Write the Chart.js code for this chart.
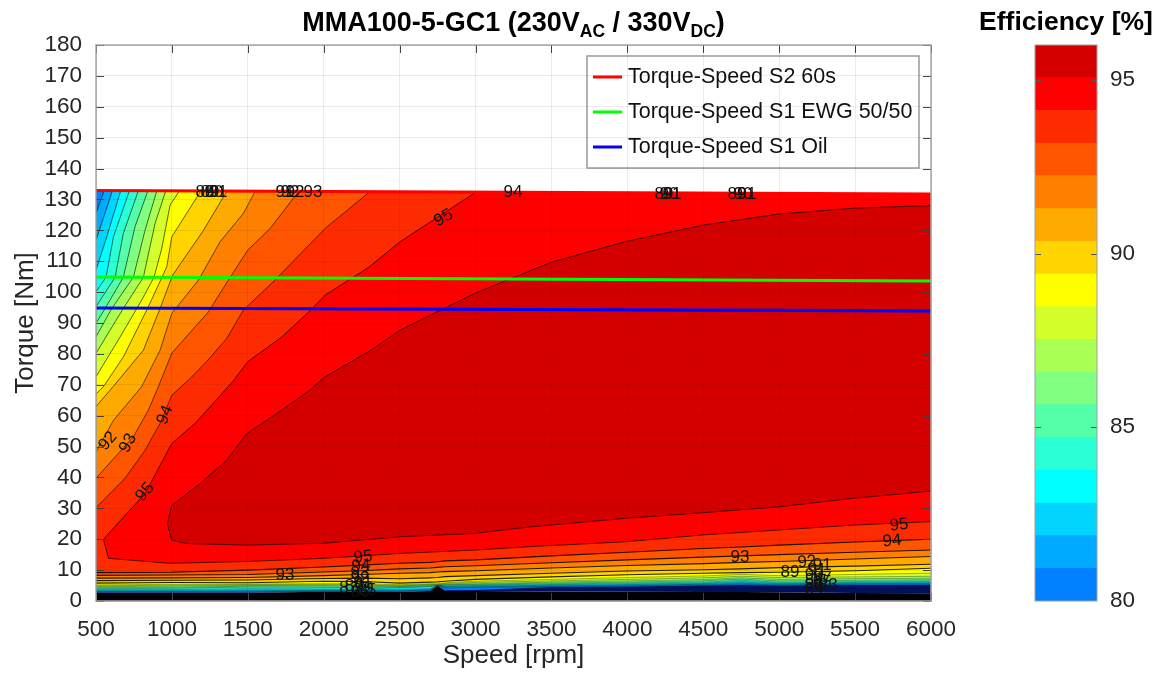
<!DOCTYPE html>
<html><head><meta charset="utf-8">
<script src="https://cdn.jsdelivr.net/npm/chart.js@4"></script>
<style>html,body{margin:0;padding:0;background:#fff;overflow:hidden}canvas{position:absolute;top:0}</style>
</head><body>
<canvas id="main" width="960" height="673" style="left:0"></canvas>
<canvas id="bar" width="203" height="673" style="left:960px"></canvas>
<script>
// ---------- data ----------
const bandColors=['#0080ff','#00aaff','#00d4ff','#00ffff','#2affd5','#55ffaa','#80ff80','#aaff55','#d4ff2b','#ffff00','#ffd400','#ffaa00','#ff8000','#ff5500','#ff2b00','#ff0000','#d40000'];
const barEdges=[80,80.94,81.88,82.82,83.76,84.71,85.65,86.59,87.53,88.47,89.41,90.35,91.29,92.24,93.18,94.12,95.06,96];
const barTicks=[80,85,90,95];
const s2Speed=[500,6000],s2Torque=[132.9,131.75];
const ewgSpeed=[500,6000],ewgTorque=[104.9,103.6];
const oilSpeed=[500,6000],oilTorque=[94.85,93.9];
const seriesNames=['Torque-Speed S2 60s','Torque-Speed S1 EWG 50/50','Torque-Speed S1 Oil'];
const seriesColors=['#ff0000','#00ff00','#0000ff'];
const topRight=[6000,131.75];
// left/upper branch of every contour (top edge first)
const upL1=[[553,132.8],[500,125.5]];
const upL2=[[608,132.8],[500,116.8]];
const upL3=[[663,132.8],[571,117.9],[500,107.1]];
const upL4=[[720,132.8],[615,117.9],[566,104.8],[500,100.1]];
const upL5=[[779,132.8],[680,119],[626,104.8],[500,95.3]];
const upL6=[[841,132.7],[757,121.2],[680,104.8],[560,94.7],[500,89.9]];
const upL7=[[900,132.7],[823,120],[746,104.8],[604,94.7],[500,85.5]];
const upL8=[[959,132.7],[889,122.2],[812,104.8],[680,94.7],[593,87.7],[500,80.2]];
const upL9=[[1049,132.7],[988,128.2],[933,114.1],[882,104.8],[801,97.4],[659,85.5],[500,72.6]];
const upL10=[[1190,132.7],[999,117.9],[966,108.2],[845,95.3],[680,79],[549,69.4],[500,67]];
const upL11=[[1361,132.6],[1208,120],[1005,105.5],[922,94.7],[812,81.2],[640,71],[500,62.9]];
const upL12=[[1548,132.6],[1471,125.5],[1317,116.3],[1175,103.9],[999,93.1],[922,81.2],[801,69.4],[615,58.5],[500,48.3]];
const upL13=[[1833,132.5],[1647,120.6],[1500,113.6],[1372,103.9],[1240,93.6],[999,80.2],[911,69.4],[845,61.8],[746,53.2],[500,39.7]];
const upL14=[[2301,132.4],[2009,120.6],[1669,103.4],[1471,94.2],[1361,85],[1229,77.5],[1109,71.5],[999,66.6],[922,57.5],[823,48.8],[691,39.7],[500,30.2]];
// lower branch of the contours, on a common speed grid
const lowSpeed=[500,1000,1500,2000,2250,2500,2700,2750,2800,3000,3500,4000,4500,4750,5000,5500,6000];
const blackTop=[2.7,2.7,2.7,3,3,3,3.2,5,3.2,3.2,3.1,3,2.9,2.9,2.8,2.6,2.5];
const navyTop=[2.8,2.8,2.8,3.1,3.1,3.1,3.3,5,3.5,3.6,4.5,4.7,5,5.2,5,5.2,5.3];
const lowL1=[3,3,3,3.2,3.2,3.3,3.5,5.05,4.2,4.4,4.7,4.9,5.2,5.4,5.2,5.4,5.5];
const lowL2=[3.2,3.2,3.3,3.4,3.4,3.5,3.7,5.1,4.5,4.6,4.9,5.1,5.4,5.7,5.4,5.6,5.7];
const lowL3=[3.4,3.4,3.6,3.6,3.6,3.8,4,5.15,4.7,4.8,5.1,5.3,5.6,6,5.6,5.8,5.9];
const lowL4=[3.7,3.7,4,3.9,3.9,4.3,4.6,5.2,4.9,5,5.3,5.5,5.8,6.3,5.8,6,6.2];
const lowL5=[4,4.1,4.5,4.4,4.3,4.5,4.8,5.25,5.1,5.2,5.5,5.8,6.1,6.7,6.1,6.3,6.5];
const lowL6=[4.3,4.4,4.8,4.8,4.7,4.7,5,5.3,5.3,5.4,5.8,6.1,6.5,7.1,6.5,6.7,6.9];
const lowL7=[4.6,4.8,5,5.1,5.1,4.9,5.2,5.35,5.5,5.6,6.1,6.5,6.9,7.5,7,7.2,7.4];
const lowL8=[4.9,5.1,5.3,5.3,5.3,5.1,5.4,5.4,5.7,6,6.5,7,7.5,8,7.6,7.8,8];
const lowL9=[5.2,5.4,5.5,5.6,5.6,5.3,5.6,5.6,5.9,6.4,7,7.6,8.1,8.6,8.2,8.6,9];
const lowL10=[5.8,6,5.9,6.4,6.3,5.8,6.1,6.2,6.4,7,7.8,8.5,9,9.2,9.3,9.8,10.6];
const lowL11=[6.6,6.7,6.8,7.3,7.4,7.2,7.5,7.6,7.9,8.2,9,9.7,10.1,10.4,10.8,11.3,11.9];
const lowL12=[7.4,7.5,7.6,8.2,8.6,9,9.2,9.4,9.5,9.8,10.7,11.5,12.1,12.5,12.8,13.6,14.4];
const lowL13=[8.3,8.4,8.6,9.4,9.8,10.4,10.7,10.9,11.1,11.4,12.4,13.3,14.2,14.6,15,15.8,16.5];
const lowL14=[9.2,9.3,10,11,11.6,12.2,12.5,12.7,13,13.3,14.6,15.8,17,17.5,18.1,19.1,20];
// the two highest contours are single continuous curves
const curveL15=[[3000,132.3],[2503,116.3],[2295,108],[2009,99],[1910,94],[1724,85.5],[1500,77.5],[1400,71],[1153,57.5],[999,51],[823,34.8],[549,20],[582,13.8],[988,12.2],[1500,12.8],[2000,13.8],[2503,15.4],[3000,16.5],[3359,17.6],[3996,19.2],[4500,21.4],[5000,23],[5500,24.6],[6000,25.7]];
const curveL16=[[6000,128],[5500,127.2],[5000,125.3],[4500,121.7],[4000,116.5],[3500,109.7],[3000,99.7],[2503,87.7],[2305,81],[2009,72.6],[1910,68.3],[1691,60.7],[1493,54.2],[1361,45.6],[1186,38],[999,31],[970,25],[999,19.7],[1098,18.6],[1493,18.1],[2000,18.7],[2503,20.8],[3000,21.9],[3359,24],[3996,26.8],[4500,28.6],[5000,30.5],[5500,33.3],[6000,35.6]];
// contour labels
const labelText=['88','89','90','91','91','92','92','93','94','89','90','91','89','90','91','92','93','94','95','95','95','94','93','92','91','89','87','90','86','85','93','93','92','89','91','91','90','88','87','86','85','84','83','95','94'];
const labelSpeed=[1218,1251,1277,1304,1745,1778,1811,1929,3247,4241,4274,4294,4722,4762,4788,579,711,955,823,2790,2259,2246,2239,2239,2259,2200,2165,2265,2239,2283,1745,4742,5183,5071,5249,5283,5230,5230,5283,5230,5283,5230,5323,5790,5743];
const labelTorque=[132.3,132.3,132.3,132.3,132.3,132.3,132.3,132.3,132.3,131.6,131.6,131.6,131.6,131.6,131.6,51.8,51.1,60.2,35.3,124,14.2,11.3,9,7.4,5.8,4.8,4.2,4.2,2.9,3.4,8.4,14.2,12.6,9.4,10,11.6,8.4,6.8,7.5,5.2,5.9,3.9,5.1,24.6,19.4];
const labelAngle=[0,0,0,0,0,0,0,0,0,0,0,0,0,0,0,-50,-62,-68,-50,-30,-5,-5,0,0,0,0,0,0,0,0,0,0,-5,0,0,0,0,0,0,0,0,0,0,-6,-5];

// ---------- build datasets ----------
const pts=a=>a.map(p=>({x:p[0],y:p[1]}));
const lowPts=a=>lowSpeed.map((s,i)=>({x:s,y:a[i]}));
const ups=[upL1,upL2,upL3,upL4,upL5,upL6,upL7,upL8,upL9,upL10,upL11,upL12,upL13,upL14];
const lows=[lowL1,lowL2,lowL3,lowL4,lowL5,lowL6,lowL7,lowL8,lowL9,lowL10,lowL11,lowL12,lowL13,lowL14];
const base={type:'scatter',showLine:true,pointRadius:0,tension:0,spanGaps:true};
const ds=[];let ord=1000;
const fillSet=(data,color)=>ds.push({...base,data,fill:'shape',backgroundColor:color,borderWidth:0,borderColor:'transparent',order:ord--});
const lineSet=(data,w)=>ds.push({...base,data,fill:false,borderColor:'rgba(0,0,0,0.85)',borderWidth:w,order:ord--});
fillSet([{x:500,y:0},{x:6000,y:0},...lowPts(blackTop).reverse()],'#000004');
fillSet([{x:500,y:132.9},{x:topRight[0],y:topRight[1]},...lowPts(blackTop).reverse()],'#00105a');
fillSet([{x:500,y:132.9},{x:topRight[0],y:topRight[1]},...lowPts(navyTop).reverse()],bandColors[0]);
ups.forEach((u,i)=>{
  fillSet([...pts(u).reverse(),{x:topRight[0],y:topRight[1]},...lowPts(lows[i]).reverse()],bandColors[i+1]);
  lineSet(pts(u),0.7);lineSet(lowPts(lows[i]),i<9?0.4:1.1);
});
fillSet([...pts(curveL15),{x:topRight[0],y:topRight[1]}],bandColors[15]);lineSet(pts(curveL15),0.8);
fillSet(pts(curveL16),bandColors[16]);lineSet(pts(curveL16),0.8);
[[s2Speed,s2Torque],[ewgSpeed,ewgTorque],[oilSpeed,oilTorque]].forEach((s,i)=>{
  ds.push({...base,label:seriesNames[i],data:s[0].map((x,j)=>({x,y:s[1][j]})),fill:false,borderColor:seriesColors[i],borderWidth:3.2,order:ord--});
});

const FONT='"Liberation Sans",Arial,sans-serif';
const overlay={id:'overlay',afterDatasetsDraw(c){
  const {ctx,chartArea:a,scales:{x,y}}=c;
  ctx.save();
  ctx.fillStyle='#111';ctx.font='17px '+FONT;ctx.textAlign='center';ctx.textBaseline='middle';
  labelText.forEach((t,i)=>{ctx.save();ctx.translate(x.getPixelForValue(labelSpeed[i]),y.getPixelForValue(labelTorque[i]));ctx.rotate(labelAngle[i]*Math.PI/180);ctx.fillText(t,0,0);ctx.restore();});
  ctx.strokeStyle='#444';ctx.lineWidth=1;ctx.beginPath();
  x.ticks.forEach(t=>{const p=Math.round(x.getPixelForValue(t.value))+.5;ctx.moveTo(p,a.top);ctx.lineTo(p,a.top+8);ctx.moveTo(p,a.bottom);ctx.lineTo(p,a.bottom-8);});
  y.ticks.forEach(t=>{const p=Math.round(y.getPixelForValue(t.value))+.5;ctx.moveTo(a.left,p);ctx.lineTo(a.left+8,p);ctx.moveTo(a.right,p);ctx.lineTo(a.right-8,p);});
  ctx.stroke();
  ctx.strokeStyle='#a8a8a8';ctx.lineWidth=1.5;ctx.strokeRect(a.left,a.top,a.right-a.left,a.bottom-a.top);
  ctx.fillStyle='#fff';ctx.fillRect(587,56,332,112);ctx.strokeStyle='#999';ctx.lineWidth=1.5;ctx.strokeRect(587,56,332,112);
  ctx.textAlign='left';ctx.font='21.5px '+FONT;
  seriesNames.forEach((n,i)=>{const ly=77+35*i;ctx.strokeStyle=seriesColors[i];ctx.lineWidth=3;ctx.beginPath();ctx.moveTo(593,ly);ctx.lineTo(622,ly);ctx.stroke();ctx.fillStyle='#111';ctx.fillText(n,628,ly);});
  const parts=[['MMA100-5-GC1 (230V',0],['AC',1],[' / 330V',0],['DC',1],[')',0]];
  const fb='bold 27px '+FONT,fs='bold 17.5px '+FONT;let w=0;
  parts.forEach(p=>{ctx.font=p[1]?fs:fb;w+=ctx.measureText(p[0]).width;});
  let tx=(a.left+a.right)/2-w/2;ctx.fillStyle='#000';ctx.textBaseline='alphabetic';
  parts.forEach(p=>{ctx.font=p[1]?fs:fb;ctx.fillText(p[0],tx,p[1]?37:31);tx+=ctx.measureText(p[0]).width;});
  ctx.restore();
}};
new Chart(document.getElementById('main'),{type:'scatter',data:{datasets:ds},plugins:[overlay],options:{
  responsive:false,animation:false,devicePixelRatio:1,
  layout:{padding:{left:0,right:29,top:45,bottom:0}},
  plugins:{legend:{display:false},tooltip:{enabled:false},title:{display:false}},
  scales:{
    x:{type:'linear',min:500,max:6000,afterFit(s){s.height=72;s.paddingLeft=0;s.paddingRight=0;},
      ticks:{stepSize:500,font:{size:22.5,family:FONT},color:'#262626',padding:15,maxRotation:0,callback:v=>String(v)},
      grid:{color:'rgba(38,38,38,0.09)',z:1,drawTicks:false},border:{display:false},
      title:{display:true,text:'Speed [rpm]',font:{size:26,family:FONT},color:'#262626',padding:{top:0,bottom:2}}},
    y:{type:'linear',min:0,max:180,afterFit(s){s.width=96;},
      ticks:{stepSize:10,font:{size:22.5,family:FONT},color:'#262626',padding:14},
      grid:{color:'rgba(38,38,38,0.09)',z:1,drawTicks:false},border:{display:false},
      title:{display:true,text:'Torque [Nm]',font:{size:26,family:FONT},color:'#262626',padding:{top:10,bottom:0}}}
  }}});

const barOverlay={id:'barOverlay',afterDatasetsDraw(c){
  const {ctx,chartArea:a,scales:{y}}=c;ctx.save();
  ctx.strokeStyle='#555';ctx.lineWidth=1;ctx.beginPath();
  barTicks.slice(1).forEach(v=>{const p=Math.round(y.getPixelForValue(v))+.5;ctx.moveTo(a.left,p);ctx.lineTo(a.left+6,p);ctx.moveTo(a.right,p);ctx.lineTo(a.right-6,p);});ctx.stroke();
  ctx.strokeStyle='#a0a0a0';ctx.lineWidth=1;ctx.strokeRect(a.left,a.top,a.right-a.left,a.bottom-a.top);
  ctx.fillStyle='#000';ctx.font='bold 26.5px '+FONT;ctx.textAlign='center';ctx.textBaseline='alphabetic';ctx.fillText('Efficiency [%]',106,30);
  ctx.restore();
}};
new Chart(document.getElementById('bar'),{type:'bar',
  data:{labels:['Efficiency'],datasets:bandColors.map((col,i)=>({data:[[barEdges[i],barEdges[i+1]]],backgroundColor:col,borderWidth:0,barPercentage:1,categoryPercentage:1,grouped:false}))},
  plugins:[barOverlay],options:{responsive:false,animation:false,devicePixelRatio:1,
  layout:{padding:{left:75,right:0,top:45,bottom:72}},
  plugins:{legend:{display:false},tooltip:{enabled:false}},
  scales:{x:{display:false},
    y:{position:'right',min:80,max:96,afterFit(s){s.width=66;},grid:{display:false,drawTicks:false},border:{display:false},
      ticks:{stepSize:5,includeBounds:false,font:{size:22.5,family:FONT},color:'#262626',padding:13}}}}});
</script>
</body></html>
